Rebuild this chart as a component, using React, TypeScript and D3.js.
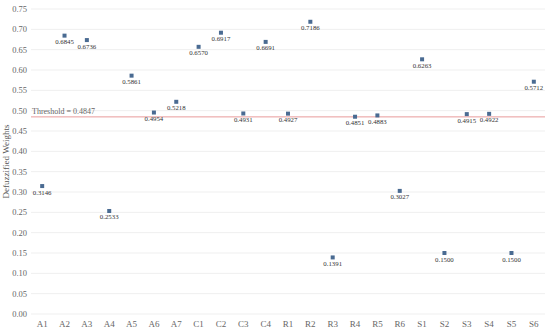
import React from "react";
import * as d3 from "d3";

const categories = ["A1","A2","A3","A4","A5","A6","A7","C1","C2","C3","C4","R1","R2","R3","R4","R5","R6","S1","S2","S3","S4","S5","S6"];
const weights = [0.3146,0.6845,0.6736,0.2533,0.5861,0.4954,0.5218,0.6570,0.6917,0.4931,0.6691,0.4927,0.7186,0.1391,0.4851,0.4883,0.3027,0.6263,0.1500,0.4915,0.4922,0.1500,0.5712];
const yTicks = [0,0.05,0.1,0.15,0.2,0.25,0.3,0.35,0.4,0.45,0.5,0.55,0.6,0.65,0.7,0.75];
const threshold = 0.4847;
const yLabel = "Defuzzified Weights";

export default function App() {
  const W = 550, H = 336;
  const left = 31, right = 545, top = 9, bottom = 314;
  const x = d3.scaleBand<string>().domain(categories).range([left, right]);
  const y = d3.scaleLinear().domain([0, 0.75]).range([bottom, top]);
  const st = { fontFamily: "Liberation Serif, serif" };
  return (
    <svg width={W} height={H} style={{ position: "absolute", left: 0, top: 0, background: "#fff" }}>
      {yTicks.map((t) => (
        <g key={t}>
          <line x1={left} x2={right} y1={y(t)} y2={y(t)} stroke="#efefef" strokeWidth={1} />
          <text style={st} x={27} y={y(t)} dy="0.35em" textAnchor="end" fontSize={8.5} fill="#666">{t.toFixed(2)}</text>
        </g>
      ))}
      {categories.map((c) => (
        <text style={st} key={c} x={x(c)! + x.bandwidth() / 2} y={327} textAnchor="middle" fontSize={9} fill="#666">{c}</text>
      ))}
      <text style={st} transform={`translate(6,${(top + bottom) / 2}) rotate(-90)`} textAnchor="middle" dy="0.35em" fontSize={9} fill="#555">{yLabel}</text>
      <line x1={left} x2={right} y1={y(threshold)} y2={y(threshold)} stroke="#e89a9a" strokeWidth={1} />
      <text style={st} x={32} y={y(threshold) - 3} fontSize={8} fill="#666">{`Threshold = ${threshold.toFixed(4)}`}</text>
      {categories.map((c, i) => {
        const cx = x(c)! + x.bandwidth() / 2;
        const cy = y(weights[i]);
        return (
          <g key={c}>
            <rect x={cx - 2} y={cy - 2} width={4} height={4} fill="#4a6b92" />
            <text style={st} x={cx} y={cy + 8.5} textAnchor="middle" fontSize={6.8} fill="#333">{weights[i].toFixed(4)}</text>
          </g>
        );
      })}
    </svg>
  );
}
